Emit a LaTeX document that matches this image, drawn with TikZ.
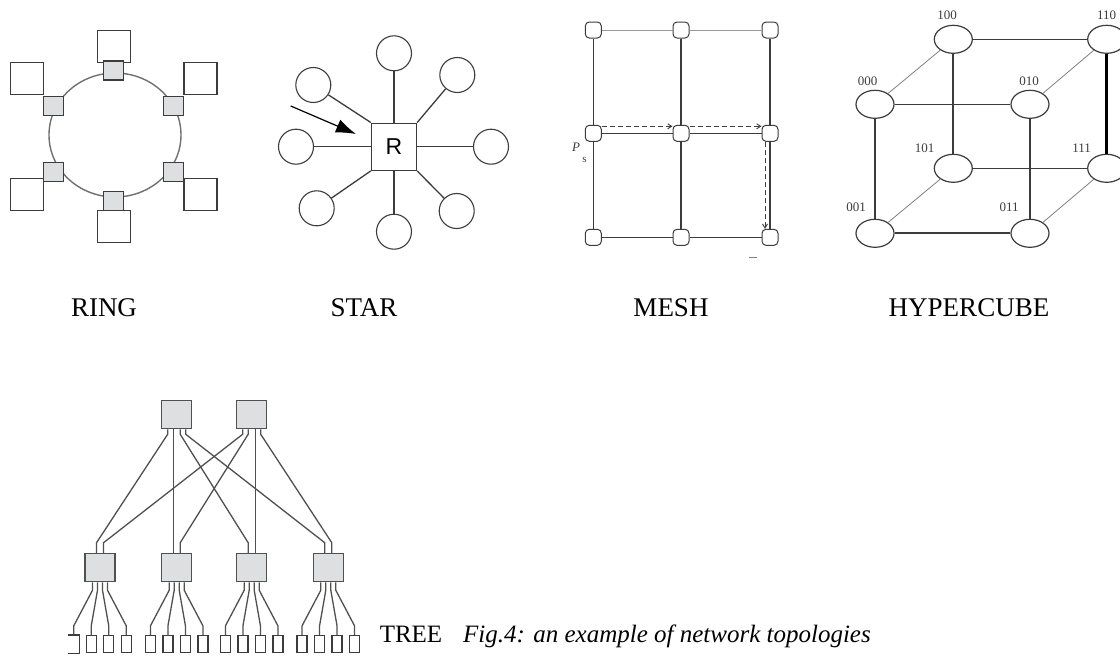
\documentclass[tikz,border=0pt]{standalone}
\usepackage{fontspec}
\setmainfont{Liberation Serif}
\newfontfamily\lsans{Liberation Sans}
\usetikzlibrary{shapes.geometric,arrows.meta}
\definecolor{boxgray}{HTML}{DDDFE0}
\definecolor{edge}{HTML}{3C3C3C}
\definecolor{ringline}{HTML}{707070}
\definecolor{treeedge}{HTML}{505050}
\begin{document}
\begin{tikzpicture}[x=1pt,y=-1pt,
  lbl/.style={font=\fontsize{27}{30}\selectfont, inner sep=0pt},
  lbltwo/.style={font=\fontsize{25}{28}\selectfont, inner sep=0pt},
  wbox/.style={draw=edge, line width=1.4pt, fill=white, minimum width=33pt, minimum height=32pt, inner sep=0pt},
  gbox/.style={draw=edge, line width=1.4pt, fill=boxgray, minimum width=20pt, minimum height=19pt, inner sep=0pt},
  rbox/.style={draw=edge, line width=1.4pt, fill=white, minimum width=45pt, minimum height=47pt, inner sep=0pt, font=\lsans\fontsize{23}{23}\selectfont},
  sc/.style={circle, draw=edge, line width=1.1pt, fill=white, minimum size=35pt, inner sep=0pt},
  sl/.style={draw=edge, line width=1.3pt},
  mn/.style={draw=edge, line width=1pt, rounded corners=4pt, fill=white, minimum size=16pt, inner sep=0pt},
  ml/.style={draw=edge, line width=1.6pt},
  mlight/.style={draw=gray!80, line width=1pt},
  mdash/.style={draw=edge, line width=0.9pt, dash pattern=on 5pt off 3pt, -{Straight Barb[length=4pt,width=5pt]}},
  hc/.style={ellipse, draw=edge, line width=1.2pt, fill=white, minimum width=38pt, minimum height=28pt, inner sep=0pt},
  hl/.style={font=\fontsize{13}{13}\selectfont, inner sep=0pt, text=edge},
  hthin/.style={draw=gray, line width=0.8pt},
  hmed/.style={draw=edge, line width=1.5pt},
  hthick/.style={draw=edge, line width=2.2pt},
  hvthick/.style={draw=black, line width=3pt},
  tb/.style={draw=treeedge, line width=1.5pt, fill=boxgray, minimum width=30pt, minimum height=28pt, inner sep=0pt},
  lf/.style={draw=edge, line width=1.3pt, fill=white, minimum width=10pt, minimum height=17pt, inner sep=0pt},
  leaf11/.style={draw=none},
  tl/.style={draw=treeedge, line width=1.3pt}
]
\fill[white] (0,0) rectangle (1120,656);
\useasboundingbox (0,0) rectangle (1120,656);

% ---------------- RING ----------------
\node[wbox] (w1) at (114,46.5) {};
\node[wbox] (w2) at (200.5,78.5) {};
\node[wbox] (w3) at (200.5,194.5) {};
\node[wbox] (w4) at (114,226.5) {};
\node[wbox] (w5) at (27,194.5) {};
\node[wbox] (w6) at (27,78.5) {};
\draw[ringline, line width=1.4pt] (115,135) ellipse [x radius=66, y radius=62];
\node[gbox] (g1) at (113.5,70.5) {};
\node[gbox] (g2) at (173.5,106) {};
\node[gbox] (g3) at (173.5,172) {};
\node[gbox] (g4) at (113.5,201) {};
\node[gbox] (g5) at (53.5,172) {};
\node[gbox] (g6) at (53.5,106) {};

% ---------------- STAR ----------------
\node[rbox] (R) at (394,146.7) {R};
\node[sc] (s1) at (394,53.3) {};
\node[sc] (s2) at (457.3,75) {};
\node[sc] (s3) at (491,146.7) {};
\node[sc] (s4) at (456.7,211) {};
\node[sc] (s5) at (394,231.7) {};
\node[sc] (s6) at (316.7,208.3) {};
\node[sc] (s7) at (296,146.7) {};
\node[sc] (s8) at (313.3,85) {};
\draw[sl] (s1) -- (R);
\draw[sl] (s2) -- (R.north east);
\draw[sl] (s3) -- (R);
\draw[sl] (s4) -- (R.south east);
\draw[sl] (s5) -- (R);
\draw[sl] (s6) -- (R.south west);
\draw[sl] (s7) -- (R);
\draw[sl] (s8) -- (R.north west);
\coordinate (a0) at (290.7,106);
\coordinate (a1) at (356,134);
\draw[black, line width=1.2pt, -{Latex[length=20pt,width=14pt]}] (a0) -- (a1);

% ---------------- MESH ----------------
\node[mn] (m00) at (593.3,30) {};
\node[mn] (m01) at (681,30) {};
\node[mn] (m02) at (770,30) {};
\node[mn] (m10) at (593.3,133.3) {};
\node[mn] (m11) at (681,133.3) {};
\node[mn] (m12) at (770,133.3) {};
\node[mn] (m20) at (593.3,237.3) {};
\node[mn] (m21) at (681,237.3) {};
\node[mn] (m22) at (770,237.3) {};
\draw[mlight] (m00) -- (m01);
\draw[mlight] (m01) -- (m02);
\draw[ml] (m10) -- (m11);
\draw[ml] (m11) -- (m12);
\draw[ml] (m20) -- (m21);
\draw[ml] (m21) -- (m22);
\draw[ml] (m00) -- (m10);
\draw[ml] (m10) -- (m20);
\draw[ml] (m01) -- (m11);
\draw[ml] (m11) -- (m21);
\draw[ml] (m02) -- (m12);
\draw[ml] (m12) -- (m22);
\draw[mdash] ([yshift=7pt]m10.east) -- ([yshift=7pt]m11.west);
\draw[mdash] ([yshift=7pt]m11.east) -- ([yshift=7pt]m12.west);
\draw[mdash] ([xshift=-5pt]m12.south) -- ([xshift=-5pt]m22.north);
\node[font=\fontsize{13}{13}\selectfont\itshape, text=edge, inner sep=0pt] (mp) at (576,147) {P};
\node[font=\fontsize{11}{11}\selectfont, text=edge, inner sep=0pt] (ms) at (584.5,160) {s};
\draw[gray, line width=0.8pt] (749,257.5) -- (757,257.5);

% ---------------- HYPERCUBE ----------------
\node[hc] (h100) at (953.3,39.3) {};
\node[hc] (h110) at (1106.7,39.3) {};
\node[hc] (h000) at (875,104.3) {};
\node[hc] (h010) at (1030,104.3) {};
\node[hc] (h101) at (953.3,168.3) {};
\node[hc] (h111) at (1106.7,168.3) {};
\node[hc] (h001) at (875,233.3) {};
\node[hc] (h011) at (1030,233.3) {};
\draw[hmed] (h100) -- (h110);
\draw[hmed] (h000) -- (h010);
\draw[hmed] (h101) -- (h111);
\draw[hthick] (h001) -- (h011);
\draw[hthick] (h100) -- (h101);
\draw[hthick] (h000) -- (h001);
\draw[hmed] (h010) -- (h011);
\draw[hvthick] (h110) -- (h111);
\draw[hthin] (h000) -- (h100);
\draw[hthin] (h010) -- (h110);
\draw[hthin] (h001) -- (h101);
\draw[hthin] (h011) -- (h111);
\node[hl] (l100) at (947,15.5) {100};
\node[hl, anchor=west] (l110) at (1097,15.5) {110};
\node[hl] (l000) at (867.5,81) {000};
\node[hl] (l010) at (1029,81) {010};
\node[hl] (l101) at (924.5,148) {101};
\node[hl] (l111) at (1081.7,148) {111};
\node[hl] (l001) at (856,207) {001};
\node[hl] (l011) at (1009,207) {011};

% ---------------- labels ----------------
\node[lbl, anchor=base] (tRing) at (104,316.5) {RING};
\node[lbl, anchor=base] (tStar) at (364,316.5) {STAR};
\node[lbl, anchor=base] (tMesh) at (671,316.5) {MESH};
\node[lbl, anchor=base] (tHyp) at (969,316.5) {HYPERCUBE};

% ---------------- TREE ----------------
\node[tb] (t1) at (176.7,414.5) {};
\node[tb] (t2) at (251.7,414.5) {};
\node[tb] (m1) at (100,567.5) {};
\node[tb] (m2) at (176.7,567.5) {};
\node[tb] (m3) at (251.7,567.5) {};
\node[tb] (m4) at (328.3,567.5) {};
\foreach \t/\i in {1/-3.5, 2/3.5} {
  \foreach \m/\e in {1/-9, 2/-3.5, 3/3.5, 4/9} {
    \draw[tl] ([xshift=\e]t\t.south) -- ++(0,5) -- ([xshift=\i,yshift=10]m\m.north) -- ([xshift=\i]m\m.north);
  }
}
\foreach \m/\c in {1/100, 2/176.7, 3/251.7, 4/328.3} {
  \foreach \k/\e/\o in {1/-7.5/-26.25, 2/-2.5/-8.75, 3/2.5/8.75, 4/7.5/26.25} {
    \pgfmathsetmacro{\lx}{\c+\o}
    \node[lf, leaf\m\k/.try] (l\m\k) at (\lx,644) {};
    \draw[tl] ([xshift=\e]m\m.south) -- ++(0,8) -- ([yshift=9]l\m\k.north) -- (l\m\k.north);
  }
}
\draw[edge, line width=1.3pt] (l11.north west) -- (l11.north east) -- (l11.south east) -- (l11.south west);

\node[lbltwo, anchor=base] (tTree) at (411,642) {TREE};
\node[lbltwo, anchor=base west] (cap) at (463,642) {\itshape Fig.4: an example of network topologies};
\end{tikzpicture}
\end{document}
